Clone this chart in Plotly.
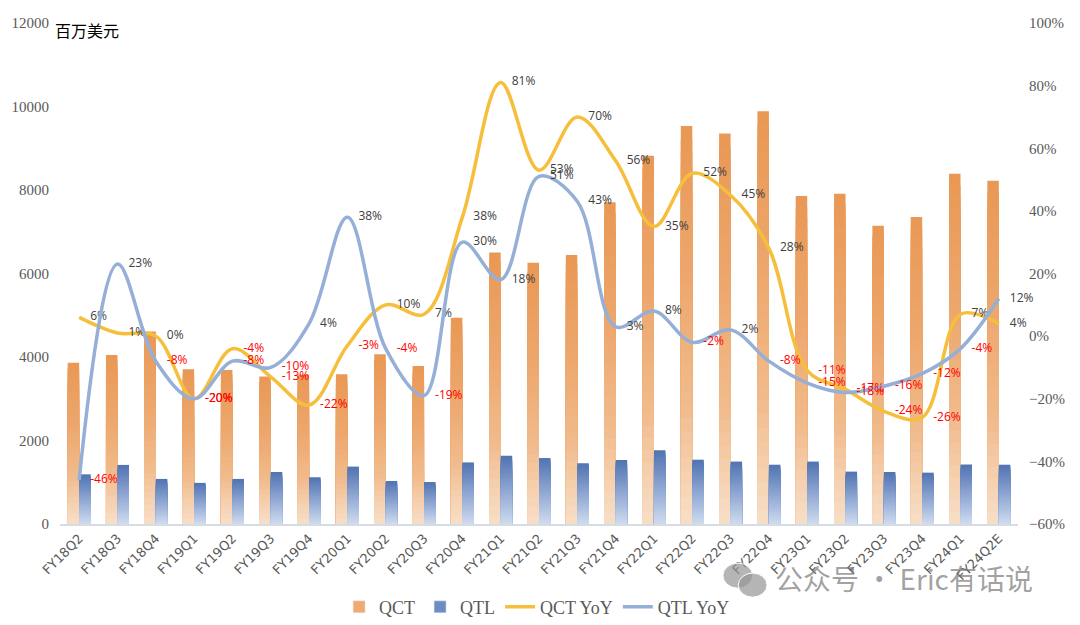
import plotly.graph_objects as go

categories = ["FY18Q2", "FY18Q3", "FY18Q4", "FY19Q1", "FY19Q2", "FY19Q3", "FY19Q4",
              "FY20Q1", "FY20Q2", "FY20Q3", "FY20Q4", "FY21Q1", "FY21Q2", "FY21Q3",
              "FY21Q4", "FY22Q1", "FY22Q2", "FY22Q3", "FY22Q4", "FY23Q1", "FY23Q2",
              "FY23Q3", "FY23Q4", "FY24Q1", "FY24Q2E"]
qct = [3860, 4050, 4610, 3705, 3690, 3530, 3580, 3585, 4065, 3785, 4940, 6505, 6260,
       6445, 7705, 8820, 9530, 9355, 9885, 7855, 7910, 7145, 7355, 8390, 8220]
qtl = [1190, 1415, 1080, 985, 1080, 1245, 1120, 1375, 1030, 1005, 1475, 1635, 1580,
       1455, 1535, 1765, 1540, 1495, 1420, 1495, 1255, 1245, 1230, 1425, 1420]
qct_yoy = [6, 1, 0, -20, -4, -13, -22, -3, 10, 7, 38, 81, 53, 70, 56, 35, 52, 45, 28,
           -11, -17, -24, -26, 7, 4]
qtl_yoy = [-46, 23, -8, -20, -8, -10, 4, 38, -4, -19, 30, 18, 51, 43, 3, 8, -2, 2, -8,
           -15, -18, -16, -12, -4, 12]

QCT_STOPS = [(0.0, (248, 223, 200)), (0.15, (245, 206, 172)), (0.3, (241, 187, 140)),
             (0.6, (237, 168, 110)), (1.0, (233, 152, 84))]
QTL_STOPS = [(0.0, (207, 219, 239)), (0.5, (142, 166, 210)), (1.0, (80, 115, 178))]


def interp(stops, t):
    for (t0, c0), (t1, c1) in zip(stops[:-1], stops[1:]):
        if t0 <= t <= t1:
            f = (t - t0) / (t1 - t0)
            return "rgb(%d,%d,%d)" % tuple(round(a + (b - a) * f) for a, b in zip(c0, c1))
    return "rgb(%d,%d,%d)" % stops[-1][1]


N = 30
fig = go.Figure()


def add_gradient_bars(values, name, stops, offset, legend_color):
    for k in range(N):
        frac = (N - k) / N
        t = (N - k - 0.5) / N
        fig.add_trace(go.Bar(
            x=categories, y=[v * frac for v in values], name=name,
            marker=dict(color=interp(stops, t), line=dict(width=0)),
            width=0.3, offset=offset, showlegend=False, hoverinfo="skip",
        ))
    # legend entry
    fig.add_trace(go.Bar(x=[None], y=[None], name=name, marker=dict(color=legend_color),
                         showlegend=True))


add_gradient_bars(qct, "QCT", QCT_STOPS, -0.3, "rgb(238,170,112)")
add_gradient_bars(qtl, "QTL", QTL_STOPS, 0.0, "rgb(110,140,195)")


def label_colors(vals):
    return ["#FF0000" if v < 0 else "#404040" for v in vals]


for vals, name, color in [(qct_yoy, "QCT YoY", "#F5BF3C"), (qtl_yoy, "QTL YoY", "#95AFD7")]:
    fig.add_trace(go.Scatter(
        x=categories, y=vals, name=name, yaxis="y2",
        mode="lines+markers+text",
        line=dict(color=color, width=3.5, shape="spline", smoothing=1.0),
        marker=dict(size=16, color="rgba(0,0,0,0)"),
        text=[f"{v}%" for v in vals], textposition="middle right",
        textfont=dict(family="Open Sans", size=12, color=label_colors(vals)),
        cliponaxis=False,
    ))

fig.update_layout(
    width=1080, height=625,
    margin=dict(l=60, r=62, t=23, b=101, autoexpand=False),
    plot_bgcolor="white", paper_bgcolor="white",
    barmode="overlay",
    xaxis=dict(type="category", tickangle=-45, range=[-0.5, 24.5], automargin=False,
               tickfont=dict(family="DejaVu Sans", size=13, color="#595959"),
               showline=True, linecolor="#D6DCE4", linewidth=1.5, ticks="",
               showgrid=False, zeroline=False),
    yaxis=dict(range=[0, 12000], dtick=2000, tickformat="d", showgrid=False, zeroline=False,
               showline=False, ticks="", ticklabelstandoff=10, automargin=False,
               tickfont=dict(family="Liberation Serif", size=15, color="#595959")),
    yaxis2=dict(range=[-60, 100], dtick=20, ticksuffix="%", overlaying="y", side="right",
                showgrid=False, zeroline=False, showline=False, ticks="",
                ticklabelstandoff=10, automargin=False,
                tickfont=dict(family="Liberation Serif", size=15, color="#595959")),
    legend=dict(orientation="h", x=0.498, xanchor="center", y=-0.166, yanchor="middle",
                font=dict(family="Liberation Serif", size=18, color="#595959"),
                traceorder="normal"),
    annotations=[
        dict(text="百万美元", xref="paper", yref="paper", x=-0.0073, y=0.986,
             xanchor="left", yanchor="middle", showarrow=False,
             font=dict(family="Noto Sans CJK SC", size=16, color="#000000")),
        dict(text="公众号 · Eric有话说", xref="paper", yref="paper", x=0.744, y=-0.108,
             xanchor="left", yanchor="middle", showarrow=False,
             font=dict(family="Noto Sans CJK SC", size=28, color="rgba(120,120,120,0.7)")),
    ],
    shapes=[
        dict(type="circle", xref="paper", yref="paper", x0=0.692, x1=0.723, y0=-0.128,
             y1=-0.078, fillcolor="rgba(150,150,150,0.7)", line=dict(color="white", width=1)),
        dict(type="circle", xref="paper", yref="paper", x0=0.708, x1=0.738, y0=-0.146,
             y1=-0.098, fillcolor="rgba(150,150,150,0.7)", line=dict(color="white", width=1)),
    ],
)

fig.write_html("out.html")
